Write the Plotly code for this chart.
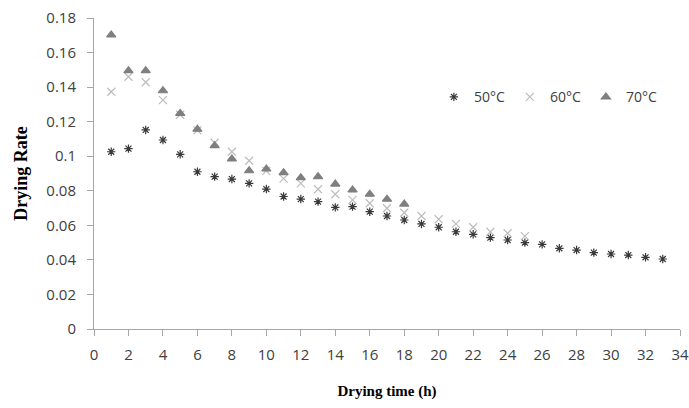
import plotly.graph_objects as go

hours = list(range(1, 34))
rate_50 = [0.1026, 0.1044, 0.1152, 0.1094, 0.1011, 0.0910, 0.0882, 0.0868, 0.0843, 0.0810,
           0.0767, 0.0752, 0.0737, 0.0704, 0.0708, 0.0679, 0.0654, 0.0631, 0.0608, 0.0589,
           0.0563, 0.0548, 0.0529, 0.0515, 0.0500, 0.0490, 0.0467, 0.0457, 0.0442, 0.0434,
           0.0428, 0.0415, 0.0405]
rate_60 = [0.1373, 0.1460, 0.1428, 0.1325, 0.1240, 0.1150, 0.1078, 0.1026, 0.0974, 0.0915,
           0.0870, 0.0843, 0.0809, 0.0780, 0.0747, 0.0728, 0.0699, 0.0673, 0.0654, 0.0635,
           0.0608, 0.0589, 0.0563, 0.0554, 0.0538]
rate_70 = [0.1702, 0.1495, 0.1495, 0.1379, 0.1248, 0.1156, 0.1061, 0.0984, 0.0916, 0.0926,
           0.0905, 0.0876, 0.0882, 0.0839, 0.0805, 0.0780, 0.0751, 0.0723]

series = [
    ("50°C", rate_50, "asterisk-open", "#3a3a3a", 7),
    ("60°C", rate_60, "x-thin-open", "#bdbdbd", 8),
    ("70°C", rate_70, "triangle-up", "#7f7f7f", 8),
]

fig = go.Figure()
for name, vals, sym, col, sz in series:
    fig.add_trace(go.Scatter(
        x=hours[:len(vals)], y=vals, mode="markers", name=name,
        marker=dict(symbol=sym, color=col, size=sz,
                    line=dict(color=col, width=1.2)),
    ))

axis_font = dict(family="Open Sans, Lato, sans-serif", size=15, color="#404040")
fig.update_layout(
    width=689, height=408,
    margin=dict(l=94, r=9, t=18, b=79),
    paper_bgcolor="white", plot_bgcolor="white",
    showlegend=True,
    legend=dict(orientation="h", x=0.58, y=0.745, xanchor="left", yanchor="middle",
                font=dict(family="Open Sans, Lato, sans-serif", size=14, color="#404040"),
                bgcolor="rgba(0,0,0,0)", itemwidth=30, tracegroupgap=0),
    xaxis=dict(range=[0, 34], dtick=2, tick0=0, showgrid=False, zeroline=False,
               showline=True, linecolor="#a6a6a6", linewidth=1, automargin=False,
               ticks="outside", ticklen=6, tickcolor="#a6a6a6",
               tickfont=axis_font, ticklabelstandoff=6,
               title=dict(text="<b>Drying time (h)</b>", standoff=22,
                          font=dict(family="Liberation Serif, Times New Roman, serif", size=15, color="black"))),
    yaxis=dict(range=[0, 0.18], dtick=0.02, tick0=0, showgrid=False, zeroline=False,
               showline=True, linecolor="#a6a6a6", linewidth=1, automargin=False,
               ticks="outside", ticklen=6, tickcolor="#a6a6a6",
               tickfont=axis_font, ticklabelstandoff=8,
               title=dict(text="<b>Drying Rate</b>", standoff=14,
                          font=dict(family="Liberation Serif, Times New Roman, serif", size=18, color="black"))),
)

fig.write_html("out.html")
